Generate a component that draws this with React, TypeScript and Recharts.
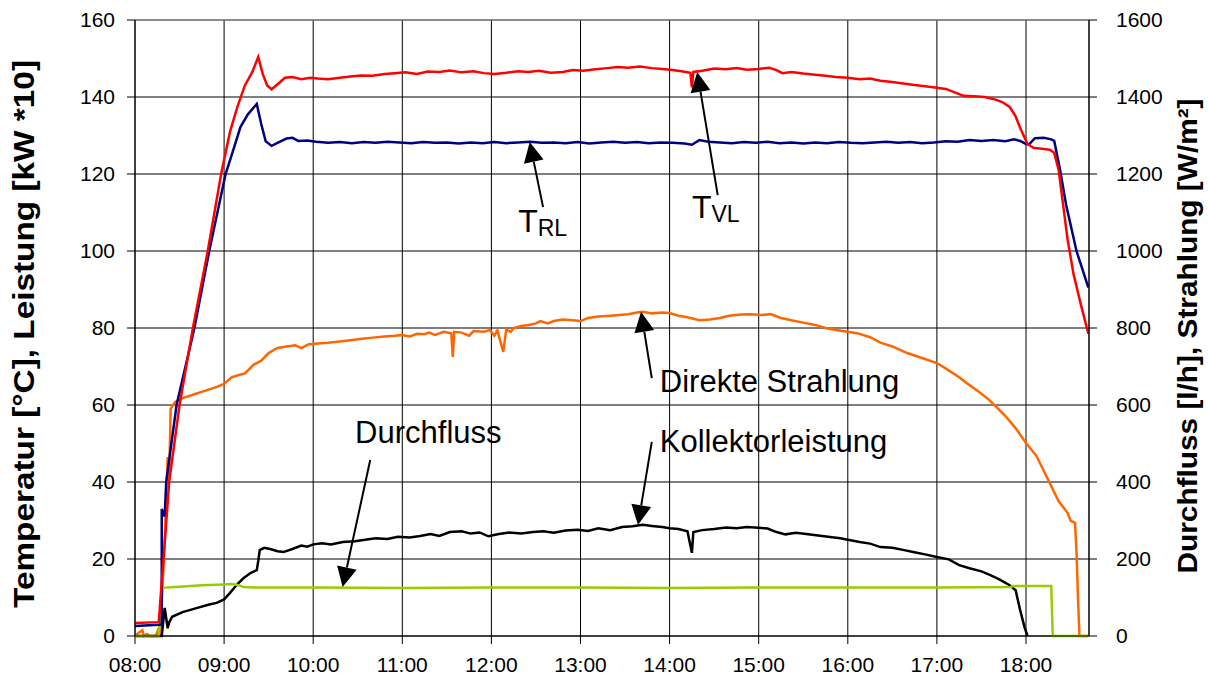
import React from "react";
import {
  CartesianGrid,
  Line,
  LineChart,
  ReferenceDot,
  ReferenceLine,
  XAxis,
  YAxis,
} from "recharts";

type Pt = [string, number];

const hourTicks = [8, 9, 10, 11, 12, 13, 14, 15, 16, 17, 18];
const leftTicks = [0, 20, 40, 60, 80, 100, 120, 140, 160];
const rightTicks = [0, 200, 400, 600, 800, 1000, 1200, 1400, 1600];

// T_VL [°C]
const vorlauf: Pt[] = [
  ["08:00", 3.4], ["08:16", 3.6], ["08:18", 14], ["08:20", 24], ["08:23", 40], ["08:30", 60],
  ["08:39", 80], ["08:49", 100], ["08:58", 120], ["09:04", 131], ["09:09", 137.5], ["09:14", 143],
  ["09:19", 146.5], ["09:23", 150.4], ["09:26", 146], ["09:29", 143], ["09:32", 142], ["09:36", 143.3],
  ["09:41", 145], ["09:46", 145.2], ["09:52", 144.6], ["09:58", 145], ["10:03", 144.8], ["10:10", 144.6],
  ["10:18", 145], ["10:25", 145.3], ["10:32", 145.6], ["10:40", 145.5], ["10:48", 146], ["10:55", 146.2],
  ["11:02", 146.4], ["11:10", 146], ["11:17", 146.6], ["11:25", 146.5], ["11:32", 146.9], ["11:40", 146.4],
  ["11:48", 146.7], ["11:55", 146.2], ["12:02", 146], ["12:10", 146.3], ["12:18", 146.7], ["12:25", 146.5],
  ["12:32", 146.8], ["12:40", 146.3], ["12:48", 146.5], ["12:55", 147], ["13:02", 146.8], ["13:10", 147.2],
  ["13:18", 147.5], ["13:25", 147.8], ["13:32", 147.6], ["13:40", 147.9], ["13:48", 147.5], ["13:55", 147.3],
  ["14:02", 147], ["14:08", 146.7], ["14:14", 146.3], ["14:15", 142.5], ["14:16", 146.5], ["14:22", 146.8],
  ["14:30", 147.4], ["14:38", 147.2], ["14:45", 147.5], ["14:52", 147.1], ["15:00", 147.3], ["15:07", 147.6],
  ["15:12", 147], ["15:16", 146.2], ["15:22", 146.5], ["15:30", 146.1], ["15:38", 145.8], ["15:45", 145.5],
  ["15:52", 145.2], ["16:00", 145], ["16:08", 144.6], ["16:15", 144.8], ["16:22", 144.2], ["16:30", 143.9],
  ["16:36", 143.6], ["16:45", 143.1], ["16:52", 142.8], ["17:00", 142.4], ["17:06", 142.1], ["17:12", 141.2],
  ["17:18", 140.3], ["17:25", 140.2], ["17:32", 140], ["17:38", 139.5], ["17:44", 138.7], ["17:49", 137.4],
  ["17:53", 135], ["17:56", 132], ["17:59", 129.5], ["18:01", 127.8], ["18:05", 126.8], ["18:12", 126.5],
  ["18:16", 126.3], ["18:19", 125.5], ["18:22", 121], ["18:25", 112], ["18:28", 103], ["18:32", 94],
  ["18:37", 86], ["18:42", 78.5],
];

// T_RL [°C]
const ruecklauf: Pt[] = [
  ["08:00", 2.6], ["08:16", 2.9], ["08:18", 3.0], ["08:18", 33], ["08:20", 31], ["08:21", 40],
  ["08:28", 60], ["08:40", 80], ["08:50", 100], ["09:01", 120], ["09:06", 126], ["09:11", 132.2],
  ["09:16", 135.5], ["09:22", 138.2], ["09:25", 133], ["09:28", 128.5], ["09:32", 127.3], ["09:37", 128.3],
  ["09:42", 129.2], ["09:46", 129.4], ["09:50", 128.6], ["09:56", 128.7], ["10:02", 128.4], ["10:10", 128.1],
  ["10:18", 128.3], ["10:26", 128], ["10:34", 128.3], ["10:42", 128.1], ["10:50", 128.4], ["10:58", 128.2],
  ["11:06", 128], ["11:14", 128.3], ["11:22", 128.1], ["11:30", 128.2], ["11:38", 127.9], ["11:46", 128.2],
  ["11:54", 128], ["12:02", 128.3], ["12:10", 128], ["12:18", 128.2], ["12:26", 128.4], ["12:34", 128.1],
  ["12:42", 128.2], ["12:50", 128], ["12:58", 128.3], ["13:06", 127.9], ["13:14", 128.2], ["13:22", 128.4],
  ["13:30", 128.1], ["13:38", 128.3], ["13:46", 128], ["13:54", 128.2], ["14:02", 128.1], ["14:10", 127.9],
  ["14:15", 127.6], ["14:20", 128.8], ["14:26", 128.4], ["14:34", 128.2], ["14:42", 128], ["14:50", 128.3],
  ["14:58", 128.1], ["15:06", 128.4], ["15:14", 128], ["15:22", 128.2], ["15:30", 127.9], ["15:38", 128.2],
  ["15:46", 128], ["15:54", 128.3], ["16:02", 128.1], ["16:10", 128], ["16:18", 128.2], ["16:26", 128.4],
  ["16:34", 128.1], ["16:42", 128.3], ["16:50", 128], ["16:58", 128.2], ["17:06", 128.5], ["17:14", 128.4],
  ["17:22", 128.8], ["17:30", 128.6], ["17:38", 128.8], ["17:46", 128.5], ["17:52", 129], ["17:56", 128.6],
  ["18:00", 127.8], ["18:02", 127.7], ["18:06", 129.3], ["18:12", 129.4], ["18:17", 129], ["18:19", 128.6],
  ["18:23", 121], ["18:27", 112], ["18:34", 100], ["18:42", 90.5],
];

// Direkte Strahlung [W/m²]
const strahlung: Pt[] = [
  ["08:00", 0], ["08:03", 10], ["08:05", 15], ["08:06", 0], ["08:08", 5], ["08:10", 0], ["08:14", 0],
  ["08:16", 20], ["08:17", 0], ["08:18", 80], ["08:20", 250], ["08:22", 465], ["08:23", 405], ["08:24", 590],
  ["08:27", 608], ["08:32", 618], ["08:40", 628], ["08:48", 638], ["08:55", 647], ["09:00", 655],
  ["09:05", 672], ["09:10", 678], ["09:14", 682], ["09:20", 705], ["09:25", 715], ["09:30", 735],
  ["09:36", 748], ["09:42", 752], ["09:48", 755], ["09:52", 748], ["09:57", 758], ["10:03", 760],
  ["10:10", 762], ["10:18", 765], ["10:25", 768], ["10:33", 772], ["10:40", 775], ["10:48", 778],
  ["10:55", 780], ["11:00", 782], ["11:05", 778], ["11:10", 785], ["11:15", 784], ["11:18", 788],
  ["11:22", 782], ["11:28", 790], ["11:33", 786], ["11:34", 725], ["11:35", 790], ["11:40", 788],
  ["11:45", 780], ["11:48", 792], ["11:55", 790], ["11:59", 795], ["12:02", 780], ["12:04", 794],
  ["12:08", 738], ["12:10", 796], ["12:13", 790], ["12:15", 800], ["12:20", 805], ["12:25", 808],
  ["12:30", 812], ["12:33", 818], ["12:38", 812], ["12:42", 818], ["12:48", 822], ["12:55", 820],
  ["13:00", 818], ["13:05", 826], ["13:12", 830], ["13:20", 832], ["13:26", 834], ["13:32", 836],
  ["13:38", 840], ["13:42", 842], ["13:48", 838], ["13:55", 840], ["14:00", 839], ["14:06", 832],
  ["14:12", 828], ["14:20", 820], ["14:27", 822], ["14:34", 826], ["14:40", 832], ["14:48", 835],
  ["14:55", 836], ["15:02", 834], ["15:08", 836], ["15:15", 826], ["15:22", 820], ["15:30", 814],
  ["15:38", 808], ["15:45", 800], ["15:52", 795], ["16:00", 790], ["16:07", 786], ["16:15", 776],
  ["16:22", 762], ["16:30", 752], ["16:40", 735], ["16:50", 722], ["17:00", 709], ["17:08", 690],
  ["17:15", 672], ["17:20", 657], ["17:28", 635], ["17:35", 614], ["17:40", 595], ["17:46", 572],
  ["17:53", 540], ["18:00", 501], ["18:07", 468], ["18:14", 413], ["18:22", 350], ["18:28", 320],
  ["18:30", 300], ["18:33", 294], ["18:34", 220], ["18:35", 100], ["18:36", 0], ["18:42", 0],
];

// Durchfluss [l/h]
const durchfluss: Pt[] = [
  ["08:00", 0], ["08:16", 0], ["08:18", 125], ["08:30", 128], ["08:45", 132], ["09:00", 134],
  ["09:05", 135], ["09:10", 132], ["09:13", 127], ["09:20", 126], ["10:00", 126], ["11:00", 125],
  ["12:00", 126], ["13:00", 126], ["14:00", 125], ["15:00", 126], ["16:00", 126], ["17:00", 126],
  ["17:50", 127], ["17:51", 130], ["18:17", 130], ["18:18", 0], ["18:42", 0],
];

// Kollektorleistung [kW*10]
const leistung: Pt[] = [
  ["08:00", 0], ["08:18", 0], ["08:20", 7.3], ["08:22", 2.0], ["08:23", 3.5], ["08:25", 5],
  ["08:32", 6.2], ["08:42", 7.3], ["08:50", 8.2], ["08:55", 8.6], ["09:00", 9.5], ["09:04", 11.2],
  ["09:09", 13.5], ["09:13", 15], ["09:18", 16.4], ["09:22", 17.1], ["09:23", 19.5], ["09:24", 22.3],
  ["09:27", 22.9], ["09:31", 22.6], ["09:36", 22], ["09:40", 21.8], ["09:46", 22.6], ["09:52", 23.5],
  ["09:56", 23.2], ["10:00", 23.8], ["10:06", 24.1], ["10:12", 23.8], ["10:20", 24.4], ["10:28", 24.6],
  ["10:35", 25], ["10:42", 25.4], ["10:50", 25.2], ["10:57", 25.8], ["11:05", 25.6], ["11:12", 26],
  ["11:19", 26.5], ["11:25", 26], ["11:32", 27], ["11:40", 27.2], ["11:46", 26.6], ["11:52", 26.9],
  ["11:58", 25.9], ["12:05", 26.5], ["12:12", 26.9], ["12:20", 26.6], ["12:28", 27], ["12:35", 27.2],
  ["12:42", 26.8], ["12:50", 27.4], ["12:58", 27.6], ["13:05", 27.3], ["13:12", 28], ["13:20", 27.5],
  ["13:28", 28.3], ["13:35", 28.5], ["13:42", 28.9], ["13:48", 28.6], ["13:55", 28.3], ["14:00", 28],
  ["14:06", 27.8], ["14:12", 27.2], ["14:15", 21.6], ["14:16", 27], ["14:22", 27.5], ["14:30", 27.8],
  ["14:38", 28.2], ["14:45", 28], ["14:52", 28.3], ["15:00", 28.1], ["15:06", 27.9], ["15:12", 27],
  ["15:18", 26.4], ["15:25", 26.8], ["15:32", 26.5], ["15:40", 26.1], ["15:48", 25.7], ["15:55", 25.4],
  ["16:00", 25], ["16:08", 24.4], ["16:15", 24], ["16:22", 23.1], ["16:30", 22.9], ["16:38", 22.3],
  ["16:44", 21.8], ["16:52", 21.2], ["17:00", 20.5], ["17:08", 19.9], ["17:15", 18.4], ["17:22", 17.6],
  ["17:30", 16.8], ["17:36", 15.8], ["17:42", 14.7], ["17:49", 13.2], ["17:53", 11.9], ["17:56", 6.8],
  ["17:59", 2.3], ["18:01", 0],
];

// annotation arrows: tail -> tip, in hours / left-axis units
const arrows = [
  { x1: 12.58, y1: 111.4, x2: 12.43, y2: 128.3 },
  { x1: 14.54, y1: 114.5, x2: 14.31, y2: 146.5 },
  { x1: 13.8, y1: 67.0, x2: 13.68, y2: 84.2 },
  { x1: 13.8, y1: 50.4, x2: 13.645, y2: 28.8 },
  { x1: 10.64, y1: 45.7, x2: 10.33, y2: 12.7 },
];

const labels = [
  { x: 13.89, y: 63.4, text: "Direkte Strahlung" },
  { x: 13.89, y: 47.8, text: "Kollektorleistung" },
  { x: 10.47, y: 50.1, text: "Durchfluss" },
];

const subLabels = [
  { x: 12.3, y: 104.9, main: "T", sub: "RL" },
  { x: 14.25, y: 108.6, main: "T", sub: "VL" },
];

const toHours = (s: string) => {
  const [h, m] = s.split(":").map(Number);
  return h + m / 60;
};
const rows = (pts: Pt[]) => pts.map(([t, v]) => ({ t: toHours(t), v }));

const font = "'Liberation Sans', Arial, sans-serif";

const Arrow = (p: any) => {
  const { x1, y1, x2, y2 } = p;
  const dx = x2 - x1;
  const dy = y2 - y1;
  const len = Math.sqrt(dx * dx + dy * dy);
  const ux = dx / len;
  const uy = dy / len;
  const head = 20;
  const half = 10;
  const bx = x2 - ux * head;
  const by = y2 - uy * head;
  const pts = `${x2},${y2} ${bx - uy * half},${by + ux * half} ${bx + uy * half},${by - ux * half}`;
  return (
    <g>
      <line x1={x1} y1={y1} x2={bx} y2={by} stroke="#000" strokeWidth={2} />
      <polygon points={pts} fill="#000" />
    </g>
  );
};

const LeftTitle = () => (
  <text
    x={34}
    y={334}
    transform="rotate(-90, 34, 334)"
    textAnchor="middle"
    fontSize={29}
    fontWeight="bold"
    fontFamily={font}
    fill="#000"
    textLength={548}
    lengthAdjust="spacingAndGlyphs"
  >
    Temperatur [°C], Leistung [kW *10]
  </text>
);

const RightTitle = () => (
  <text
    x={1197}
    y={336}
    transform="rotate(-90, 1197, 336)"
    textAnchor="middle"
    fontSize={28}
    fontWeight="bold"
    fontFamily={font}
    fill="#000"
    textLength={475}
    lengthAdjust="spacingAndGlyphs"
  >
    Durchfluss [l/h], Strahlung [W/m²]
  </text>
);

const fmtHour = (h: number) => `${String(h).padStart(2, "0")}:00`;

export default function App() {
  const tick = { fill: "#000", fontSize: 21, fontFamily: font };
  return (
    <div style={{ position: "absolute", left: 0, top: 0, background: "#fff" }}>
      <LineChart
        width={1208}
        height={682}
        margin={{ top: 20, right: 0, bottom: 0, left: 0 }}
        style={{ fontFamily: font }}
      >
        <CartesianGrid yAxisId="left" stroke="#000" strokeWidth={1} />
        <XAxis
          dataKey="t"
          type="number"
          domain={[8, 18.707]}
          ticks={hourTicks}
          tickFormatter={fmtHour}
          allowDataOverflow
          height={46}
          tickSize={8}
          tickMargin={13}
          tick={tick}
          stroke="#000"
        />
        <YAxis
          yAxisId="left"
          domain={[0, 160]}
          ticks={leftTicks}
          width={135}
          tickSize={8}
          tickMargin={12}
          tick={tick}
          stroke="#000"
          label={<LeftTitle />}
        />
        <YAxis
          yAxisId="right"
          orientation="right"
          domain={[0, 1600]}
          ticks={rightTicks}
          width={119}
          tickSize={8}
          tickMargin={19}
          tick={tick}
          stroke="#000"
          label={<RightTitle />}
        />
        <ReferenceLine yAxisId="left" y={160} stroke="#999" />
        <Line
          yAxisId="right"
          data={rows(strahlung)}
          dataKey="v"
          stroke="#FF6600"
          strokeWidth={2.5}
          dot={false}
          isAnimationActive={false}
        />
        <Line
          yAxisId="left"
          data={rows(leistung)}
          dataKey="v"
          stroke="#000000"
          strokeWidth={2.5}
          dot={false}
          isAnimationActive={false}
        />
        <Line
          yAxisId="right"
          data={rows(durchfluss)}
          dataKey="v"
          stroke="#99CC00"
          strokeWidth={2.5}
          dot={false}
          isAnimationActive={false}
        />
        <Line
          yAxisId="left"
          data={rows(ruecklauf)}
          dataKey="v"
          stroke="#000080"
          strokeWidth={2.5}
          dot={false}
          isAnimationActive={false}
        />
        <Line
          yAxisId="left"
          data={rows(vorlauf)}
          dataKey="v"
          stroke="#FF0000"
          strokeWidth={2.5}
          dot={false}
          isAnimationActive={false}
        />
        {arrows.map((a, i) => (
          <ReferenceLine
            key={`a${i}`}
            yAxisId="left"
            segment={[
              { x: a.x1, y: a.y1 },
              { x: a.x2, y: a.y2 },
            ]}
            shape={Arrow}
          />
        ))}
        {labels.map((l, i) => (
          <ReferenceDot
            key={`l${i}`}
            yAxisId="left"
            x={l.x}
            y={l.y}
            r={0}
            shape={(p: any) => (
              <text x={p.cx} y={p.cy} fontSize={31} fontFamily={font} fill="#000">
                {l.text}
              </text>
            )}
          />
        ))}
        {subLabels.map((l, i) => (
          <ReferenceDot
            key={`s${i}`}
            yAxisId="left"
            x={l.x}
            y={l.y}
            r={0}
            shape={(p: any) => (
              <text x={p.cx} y={p.cy} fontSize={32} fontFamily={font} fill="#000">
                {l.main}
                <tspan fontSize={23} dy={4}>
                  {l.sub}
                </tspan>
              </text>
            )}
          />
        ))}
      </LineChart>
    </div>
  );
}
